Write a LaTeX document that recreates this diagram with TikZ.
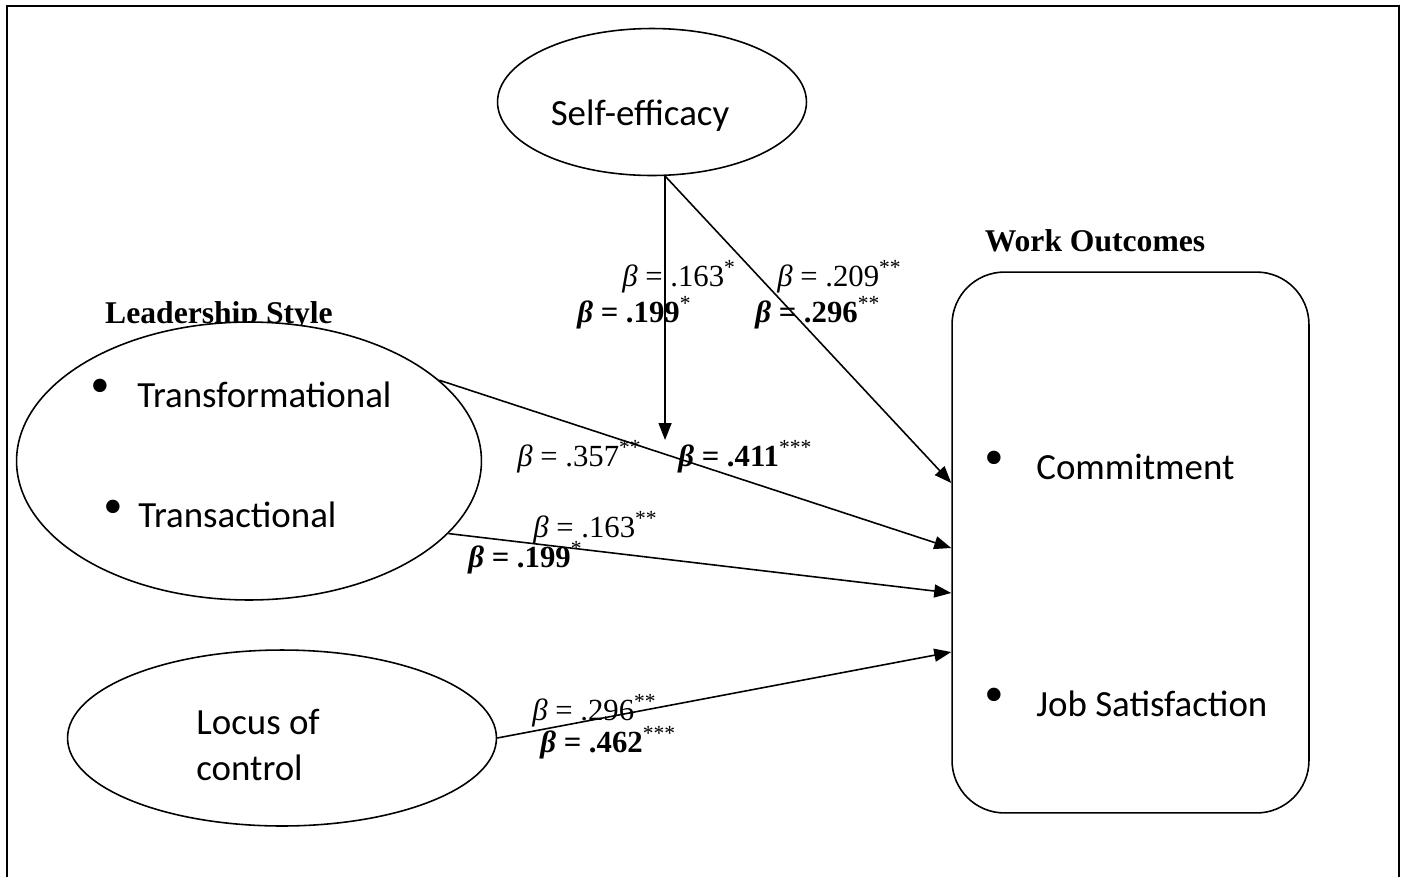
\documentclass[tikz,border=0pt]{standalone}
\usepackage{fontspec}
\setmainfont{Liberation Serif}
\newfontfamily\calibri{Carlito}
\usetikzlibrary{shapes.geometric,arrows.meta,calc,positioning}
\newcommand{\bval}[2]{{\itshape β} = .#1\textsuperscript{#2}}
\newcommand{\bbold}[2]{\textbf{{\itshape β} = .#1}\textsuperscript{#2}}
\tikzset{
  oval/.style={ellipse, draw, line width=0.9pt, fill=white, inner sep=0pt},
  outbox/.style={rectangle, rounded corners=1.05cm, draw, line width=0.9pt, minimum width=7.14cm, minimum height=10.82cm, inner sep=0pt},
  head/.style={font=\fontsize{18}{21}\selectfont\bfseries, inner sep=0pt, anchor=base},
  item/.style={font=\calibri\fontsize{21}{26}\selectfont, inner sep=0pt, anchor=base west},
  bul/.style={font=\fontsize{32}{32}\selectfont, inner sep=0pt},
  lbl/.style={font=\fontsize{17.5}{20}\selectfont, inner sep=0pt, anchor=base west},
  arr/.style={-{Triangle[length=0.34cm,width=0.26cm]}, line width=0.9pt}
}
\begin{document}
\begin{tikzpicture}[x=0.02cm, y=-0.02cm]
    \useasboundingbox (0,0) rectangle (1401,877);
    \draw[line width=1.1pt] (7,877) -- (7,6) -- (1399,6) -- (1399,877);
    % moderator
    \node (se) [oval, minimum width=6.18cm, minimum height=2.94cm] at (652,102) {};
    \node (setxt) [item, anchor=base] at (640,125) {Self-efficacy};
    % predictors
    \node (lshead) [head] at (219,323) {Leadership Style};
    \node (ls) [oval, minimum width=9.3cm, minimum height=5.56cm] at (249,461) {};
    \node (d1) [bul] at (100,392) {•};
    \node (tf) [item] at (137,407) {Transformational};
    \node (d2) [bul] at (113,513) {•};
    \node (ta) [item] at (138,527) {Transactional};
    \node (lc) [oval, minimum width=8.58cm, minimum height=3.52cm] at (282,738) {};
    \node (lctxt) [item, anchor=west, align=left] at (196,745) {Locus of\\control};
    % outcomes
    \node (wohead) [head] at (1095,251) {Work Outcomes};
    \node (wo) [outbox] at (1130.5,542.5) {};
    \node (d3) [bul] at (994,464) {•};
    \node (cm) [item] at (1036,479) {Commitment};
    \node (d4) [bul] at (994,701) {•};
    \node (js) [item] at (1036,716) {Job Satisfaction};
    % path coefficients
    \node (b1) [lbl] at (622,286) {\bval{163}{*}};
    \node (b2) [lbl] at (577,322) {\bbold{199}{*}};
    \node (b3) [lbl] at (777,286) {\bval{209}{**}};
    \node (b4) [lbl] at (755,322) {\bbold{296}{**}};
    \node (b5) [lbl] at (517,466) {\bval{357}{**}};
    \node (b6) [lbl] at (678,466) {\bbold{411}{***}};
    \node (b7) [lbl] at (533,537) {\bval{163}{**}};
    \node (b8) [lbl] at (468,567) {\bbold{199}{*}};
    \node (b9) [lbl] at (532,720) {\bval{296}{**}};
    \node (b10) [lbl] at (540,752) {\bbold{462}{***}};
    % arrows
    \coordinate (modtip) at (se.-80 |- 0,440);
    \coordinate (c1) at (wo.west |- 0,483);
    \coordinate (c2) at (wo.west |- 0,548);
    \coordinate (c3) at (wo.west |- 0,593);
    \coordinate (c4) at (wo.west |- 0,652);
    \path (se.-80) edge [arr] (modtip);
    \path (se.-80) edge [arr] (c1);
    \path (ls.23) edge [arr] (c2);
    \path (ls.-20) edge [arr] (c3);
    \path (lc.east) edge [arr] (c4);
\end{tikzpicture}
\end{document}
